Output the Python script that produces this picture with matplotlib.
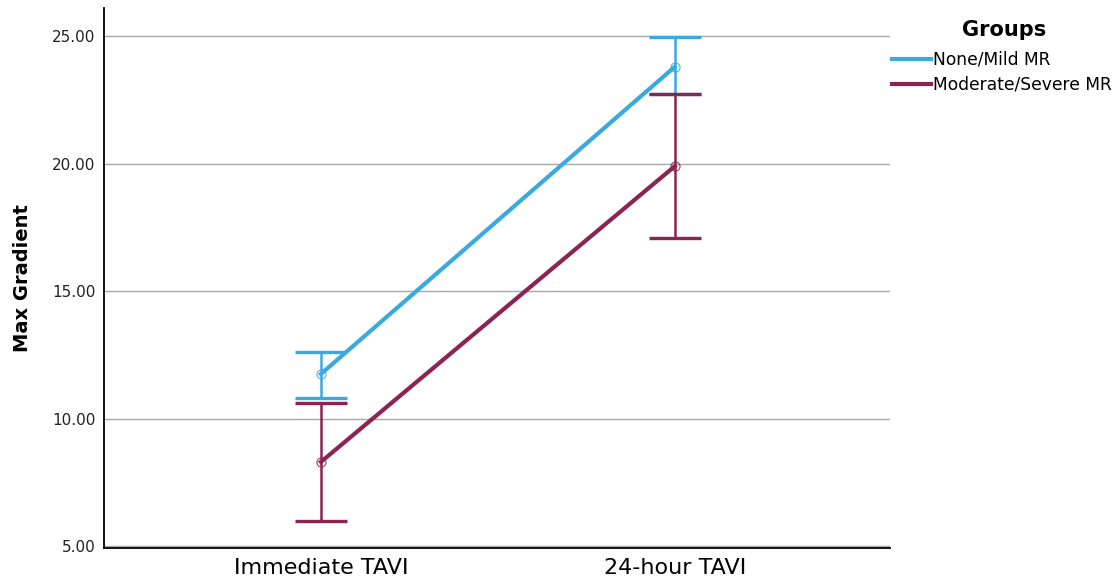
import matplotlib.pyplot as plt
import numpy as np

# ------------------------------
# data
# ------------------------------
timepoints = ["Immediate TAVI", "24-hour TAVI"]
groups = ["None/Mild MR", "Moderate/Severe MR"]

mild_mean = [11.75, 23.8]
mild_low = [10.8, 22.75]
mild_high = [12.6, 24.95]

severe_mean = [8.3, 19.9]
severe_low = [5.98, 17.08]
severe_high = [10.6, 22.75]

yticks = [5, 10, 15, 20, 25]

BLUE = "#3aa9e0"
MAROON = "#8b2353"

plt.rcParams['font.family'] = ['DejaVu Sans']

fig = plt.figure(figsize=(11.19, 5.83), dpi=100)
ax = fig.add_axes([0.093, 0.060, 0.702, 0.926])

x = np.arange(len(timepoints))

def draw_group(means, low, high, color, label):
    means = np.array(means)
    yerr = [means - np.array(low), np.array(high) - means]
    ax.errorbar(x, means, yerr=yerr, fmt="none", ecolor=color,
                elinewidth=1.8, capsize=19, capthick=2.4, zorder=3)
    ax.plot(x, means, color=color, lw=3, zorder=4, label=label)
    ax.plot(x, means, "o", ms=6.5, mfc="none", mec=color, mew=0.9,
            alpha=0.8, zorder=5)

draw_group(mild_mean, mild_low, mild_high, BLUE, groups[0])
draw_group(severe_mean, severe_low, severe_high, MAROON, groups[1])

ax.set_xlim(-0.613, 1.607)
ax.set_ylim(4.92, 26.1)
ax.set_yticks(yticks)
ax.set_yticklabels([f"{v:.2f}" for v in yticks], fontsize=11, color="#222222")
ax.set_xticks(x)
ax.set_xticklabels(timepoints, fontsize=16)
ax.tick_params(length=0, pad=6)
ax.tick_params(axis="x", pad=7)

ax.grid(axis="y", color="#a8a8a8", lw=1)
ax.set_axisbelow(True)
for s in ["top", "right"]:
    ax.spines[s].set_visible(False)
ax.spines["left"].set_linewidth(1.3)
ax.spines["bottom"].set_linewidth(1.3)

ax.set_ylabel("Max Gradient", fontsize=14, weight="bold", labelpad=15)

# legend title as its own text so the gap matches
fig.text(1004 / 1119, 1 - 30 / 583, "Groups", fontsize=15, weight="bold",
         ha="center", va="center")
fig.legend(loc="upper left", bbox_to_anchor=(0.797, 1 - 51 / 583), frameon=False,
           fontsize=12.3, handlelength=2.3, handletextpad=0.12,
           labelspacing=0.4, borderaxespad=0, borderpad=0)

plt.savefig("out.png", dpi=100)
plt.close()
